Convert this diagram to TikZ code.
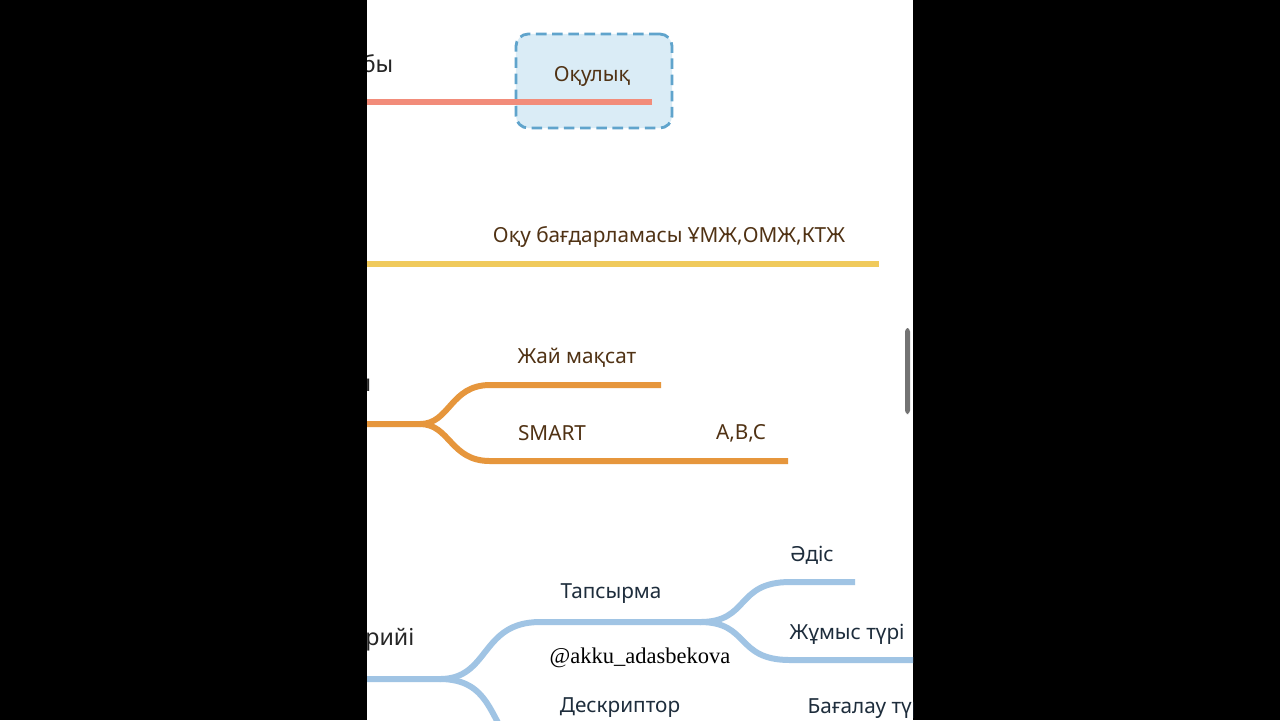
\documentclass[tikz,border=0pt]{standalone}
\usepackage{fontspec}
\setmainfont{Noto Sans}
\newfontfamily\markfont{Liberation Serif}
\usetikzlibrary{positioning}
\definecolor{salmon}{RGB}{242,140,122}
\definecolor{mustard}{RGB}{240,202,92}
\definecolor{amber}{RGB}{230,150,60}
\definecolor{skyline}{RGB}{160,196,228}
\definecolor{boxfill}{RGB}{218,236,246}
\definecolor{boxdraw}{RGB}{96,164,204}
\definecolor{txtbrown}{RGB}{80,50,20}
\definecolor{txtblue}{RGB}{30,45,60}
\begin{document}
\begin{tikzpicture}[
    x=0.01cm, y=-0.01cm,
    branch/.style={line width=1.7pt},
    lbl/.style={font=\fontsize{5.9}{7}\selectfont, inner sep=0pt},
    title/.style={lbl, font=\fontsize{6.6}{8}\selectfont\bfseries, text=black!85}
]
\fill[black] (0,0) rectangle (1280,720);
\fill[white] (367,0) rectangle (913,720);
\useasboundingbox (0,0) rectangle (1280,720);

\begin{scope}
\clip (367,0) rectangle (913,720);

%–––– TEXTBOOK ––––––––––––––––––––––––––––––
\node (book) [draw=boxdraw, fill=boxfill, dashed, dash pattern=on 3pt off 1.6pt,
      line width=0.8pt, rounded corners=3.5pt,
      minimum width=1.56cm, minimum height=0.94cm] at (594,81) {};
\draw[branch, salmon] (340,102) -- (652,102);
\node (booktxt) [lbl, text=txtbrown] at (592,76) {Оқулық};
\node (t1) [title, anchor=east] at (394,65) {ды бы};

%–––– PROGRAMME –––––––––––––––––––––––––––––
\draw[branch, mustard] (340,264) -- (879,264);
\node (prog) [lbl, text=txtbrown] at (669,237) {Оқу бағдарламасы ҰМЖ,ОМЖ,КТЖ};

%–––– GOALS –––––––––––––––––––––––––––––––––
\coordinate (gsplit) at (420,424);
\draw[branch, amber] (340,424) -- (gsplit)
   .. controls (450,424) and (450,385) .. (490,385) -- (661,385);
\draw[branch, amber] (gsplit)
   .. controls (450,424) and (450,461) .. (490,461) -- (788,461);
\node (simple) [lbl, text=txtbrown] at (577,358) {Жай мақсат};
\node (smart)  [lbl, text=txtbrown] at (552,433) {SMART};
\node (abc)    [lbl, text=txtbrown] at (741,433) {A,B,C};
\node (t2) [title, anchor=east] at (372,385) {ы};

%–––– CRITERIA ––––––––––––––––––––––––––––––
\coordinate (csplit) at (440,679);
\coordinate (tsplit) at (700,622);
\draw[branch, skyline] (340,679) -- (csplit)
   .. controls (490,679) and (480,622) .. (540,622) -- (tsplit)
   .. controls (750,622) and (735,582) .. (790,582) -- (855,582);
\draw[branch, skyline] (tsplit)
   .. controls (750,622) and (735,660) .. (790,660) -- (930,660);
\draw[branch, skyline] (csplit)
   .. controls (490,679) and (490,720) .. (510,740);
\node (task)  [lbl, text=txtblue] at (611,594) {Тапсырма};
\node (meth)  [lbl, text=txtblue] at (812,555) {Әдіс};
\node (work)  [lbl, text=txtblue, anchor=west] at (789,634) {Жұмыс түрі};
\node (desc)  [lbl, text=txtblue] at (620,708) {Дескриптор};
\node (assess)[lbl, text=txtblue, anchor=west] at (807,708) {Бағалау түрі};
\node (t3) [title, anchor=east] at (415,640) {Критерийі};
\end{scope}

\node (mark) [font=\markfont\fontsize{6.4}{8}\selectfont, inner sep=0pt] at (640,658) {@akku\_adasbekova};
\fill[black!55, rounded corners=1pt] (905,328) rectangle (910,414);
\end{tikzpicture}
\end{document}
